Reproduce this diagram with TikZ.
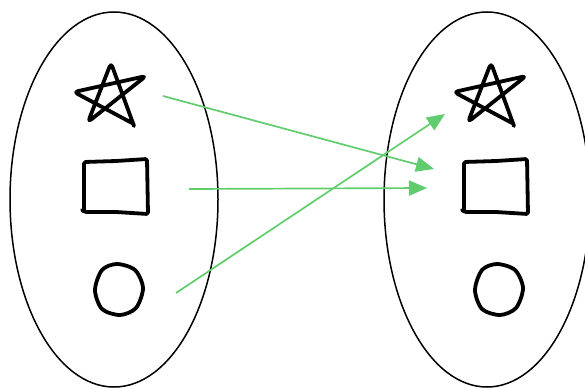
\documentclass[tikz,border=0pt]{standalone}
\usetikzlibrary{arrows.meta}
\definecolor{mapgreen}{RGB}{96,204,110}

\begin{document}
\begin{tikzpicture}[x=1pt,y=-1pt,
  set/.style={line width=1.5pt},
  ink/.style={line width=3.8pt,line join=round,line cap=round},
  map/.style={mapgreen,line width=1.7pt,-{Triangle[length=18pt,width=15pt]}}]
\useasboundingbox (0,0) rectangle (585,388);

\draw[set] (114,199.5) ellipse [x radius=104,y radius=187.5];
\draw[set] (487,199.5) ellipse [x radius=103,y radius=187.5];

\foreach \dx in {0,380}{
\begin{scope}[xshift=\dx]
\draw[ink,rounded corners=4pt] (134,126) -- (111,63) -- (88,122) -- (146,76) -- (74,92) -- (132,123);
\draw[ink,rounded corners=1.5pt] (84,210) -- (84,162) -- (116,161) -- (147,159) -- (148,214) -- (116,212) -- (85,212) -- (82,210);
\draw[ink] plot[smooth cycle] coordinates {(117,264) (135,270) (143,288) (136,308) (120,315) (102,309) (95,290) (102,270)};
\end{scope}
}

\coordinate (x_star) at (163,96);
\coordinate (x_sq) at (189,189);
\coordinate (x_circ) at (176,293);
\coordinate (y_star) at (445,114);
\coordinate (y_sq) at (434,169);
\coordinate (y_sq') at (427,188);

\draw[map] (x_star) -- (y_sq);
\draw[map] (x_sq) -- (y_sq');
\draw[map] (x_circ) -- (y_star);

\end{tikzpicture}
\end{document}
